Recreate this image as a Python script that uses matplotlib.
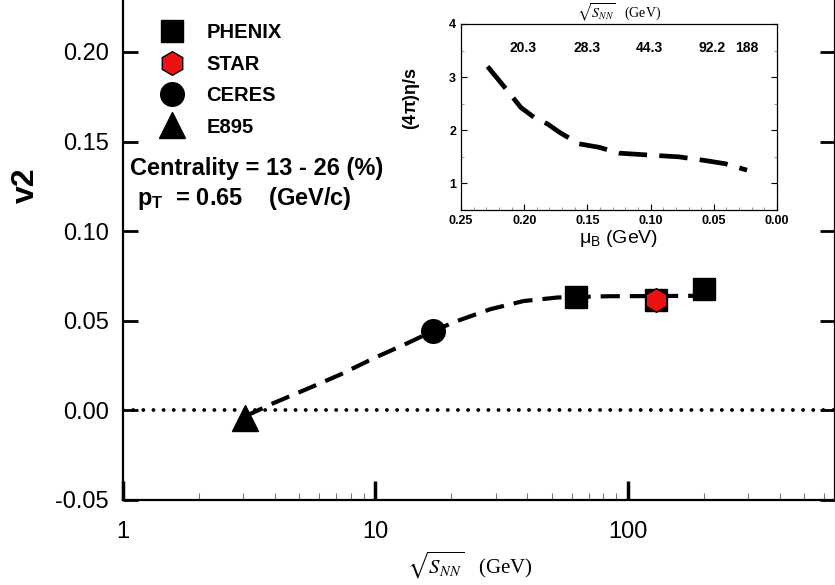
import numpy as np
import matplotlib
matplotlib.use("Agg")
import matplotlib.pyplot as plt
from matplotlib.ticker import FixedLocator, MultipleLocator, NullFormatter
from matplotlib.lines import Line2D

plt.rcParams['font.family'] = ['Liberation Sans', 'DejaVu Sans']
plt.rcParams['mathtext.fontset'] = 'custom'
plt.rcParams['mathtext.rm'] = 'Liberation Sans'
plt.rcParams['mathtext.it'] = 'Liberation Sans:italic'
plt.rcParams['mathtext.bf'] = 'Liberation Sans:bold'

# ---------------- data ----------------
phenix_x = [62.4, 130.0, 200.0]
phenix_y = [0.0633, 0.0617, 0.0678]
star_x = [130.0]
star_y = [0.0617]
ceres_x = [17.0]
ceres_y = [0.0444]
e895_x = [3.05]
e895_y = [-0.0040]

curve_x = [3.05, 3.94, 5.37, 7.26, 9.82, 13.4, 17.0, 21.2, 28.6, 38.6, 52.8, 83.3, 130.0, 167.0, 200.0]
curve_y = [-0.0033, 0.0040, 0.0120, 0.0200, 0.0290, 0.0375, 0.0444, 0.0500, 0.0565,
           0.0610, 0.0630, 0.0637, 0.0638, 0.0639, 0.0640]

inset_mu = [0.229, 0.212, 0.2027, 0.192, 0.1816, 0.172, 0.1566, 0.1408, 0.125,
            0.0987, 0.0776, 0.0566, 0.0408, 0.0237]
inset_eta = [3.20, 2.71, 2.43, 2.24, 2.12, 1.96, 1.745, 1.68, 1.57,
             1.53, 1.50, 1.43, 1.37, 1.25]

sqrt_s_label_mu = [0.2008, 0.1500, 0.1013, 0.0513, 0.0237]
sqrt_s_labels = ['20.3', '28.3', '44.3', '92.2', '188']

y_ticks = [-0.05, 0.00, 0.05, 0.10, 0.15, 0.20]
x_ticks = [1, 10, 100]
inset_xticks = [0.25, 0.20, 0.15, 0.10, 0.05, 0.00]
inset_yticks = [1, 2, 3, 4]

# ---------------- figure ----------------
fig = plt.figure(figsize=(8.35, 5.85), dpi=100)
ax = fig.add_axes([123/835, 1 - 500/585, (835 - 123)/835, 500/585])

ax.set_xscale('log')
ax.set_xlim(1, 663)
ax.set_ylim(-0.05, 0.229)

# zero line
ax.axhline(0.0, color='black', lw=2.8, dashes=(0.01, 2.6), dash_capstyle='round')
# dashed trend curve
ax.plot(curve_x, curve_y, color='black', lw=3.0, dashes=(4.6, 2.4), zorder=3)

ms = 16.5
ax.plot(phenix_x, phenix_y, 's', color='black', ms=ms, zorder=4, label='PHENIX')
ax.plot(star_x, star_y, 'h', mfc='#ee1111', mec='black', mew=1.0, ms=ms + 0.5, zorder=5, label='STAR')
ax.plot(ceres_x, ceres_y, 'o', color='black', ms=ms + 0.5, zorder=4, label='CERES')
ax.plot(e895_x, e895_y, '^', color='black', ms=ms + 2.5, zorder=4, label='E895')

# spines / ticks
ax.spines['top'].set_visible(False)
for s in ['left', 'bottom', 'right']:
    ax.spines[s].set_linewidth(1.6)
ax.set_yticks(y_ticks)
ax.set_yticklabels(['%.2f' % v for v in y_ticks])
ax.xaxis.set_major_locator(FixedLocator(x_ticks))
ax.set_xticklabels([str(v) for v in x_ticks])
ax.xaxis.set_minor_locator(FixedLocator([m * d for d in (1, 10, 100) for m in range(2, 10)]))
ax.xaxis.set_minor_formatter(NullFormatter())
ax.tick_params(axis='y', which='major', direction='in', length=11, width=2.0,
               left=True, right=True, labelsize=17, pad=10)
ax.tick_params(axis='x', which='major', direction='in', length=14, width=2.5,
               labelsize=17, pad=15)
ax.tick_params(axis='x', which='minor', direction='in', length=5, width=0.8, color='#777777')

ax.set_ylabel('v2', fontsize=23, fontweight='bold')
ax.yaxis.set_label_coords(-0.115, 0.63)
ax.set_xlabel(r'$\sqrt{S_{NN}}$   (GeV)', fontsize=15, family='Liberation Serif',
              math_fontfamily='stix')
ax.xaxis.set_label_coords(0.487, -0.10)

# legend
handles = [
    Line2D([], [], ls='none', marker='s', color='black', ms=ms),
    Line2D([], [], ls='none', marker='h', mfc='#ee1111', mec='black', mew=1.0, ms=ms + 0.5),
    Line2D([], [], ls='none', marker='o', color='black', ms=ms + 0.5),
    Line2D([], [], ls='none', marker='^', color='black', ms=ms + 2.5),
]
leg = ax.legend(handles, ['PHENIX', 'STAR', 'CERES', 'E895'], loc='upper left',
                bbox_to_anchor=(0.032, 0.978), frameon=False,
                prop={'family': 'Liberation Sans', 'weight': 'bold', 'size': 14.5},
                labelspacing=0.62, handletextpad=1.0, borderaxespad=0.2, handlelength=1.4)

ax.text(0.010, 0.664, 'Centrality = 13 - 26 (%)', transform=ax.transAxes,
        fontsize=17, fontweight='bold', va='center', ha='left')
ax.text(0.020, 0.603, r'$\mathbf{p_T}$  = 0.65    (GeV/c)', transform=ax.transAxes,
        fontsize=17, fontweight='bold', va='center', ha='left')

# ---------------- inset ----------------
axi = fig.add_axes([461/835, 1 - 210/585, 316/835, 186/585])
axi.plot(inset_mu, inset_eta, color='black', lw=3.4, dashes=(6.0, 2.6))
axi.set_xlim(0.25, 0.0)
axi.set_ylim(0.5, 4.0)
axi.set_xticks(inset_xticks)
axi.set_xticklabels(['%.2f' % v for v in inset_xticks])
axi.set_yticks(inset_yticks)
axi.set_yticklabels([str(v) for v in inset_yticks])
axi.xaxis.set_minor_locator(MultipleLocator(0.01))
axi.yaxis.set_minor_locator(MultipleLocator(0.5))
axi.tick_params(which='major', direction='in', length=4, width=0.8, top=False, right=True,
                labelsize=9)
axi.tick_params(which='minor', direction='in', length=2, width=0.6, top=False, right=True,
                color='#888888')
for lab in axi.get_xticklabels() + axi.get_yticklabels():
    lab.set_fontweight('bold')
for s in axi.spines.values():
    s.set_linewidth(0.9)
for xm, lab in zip(sqrt_s_label_mu, sqrt_s_labels):
    axi.text(xm, 3.55, lab, fontsize=10, fontweight='bold', ha='center', va='center')

axi.set_xlabel('\u03bc$_{\\mathrm{B}}$ (GeV)', fontsize=14, labelpad=1)
axi.set_ylabel(r'(4$\mathbf{\pi}$)$\mathbf{\eta}$/s', fontsize=13, fontweight='bold')
axi.yaxis.set_label_coords(-0.123, 0.60)
axi.set_title(r'$\sqrt{S_{NN}}$   (GeV)', fontsize=10, family='Liberation Serif',
              math_fontfamily='stix', pad=2)

fig.savefig('out.png', dpi=100)
